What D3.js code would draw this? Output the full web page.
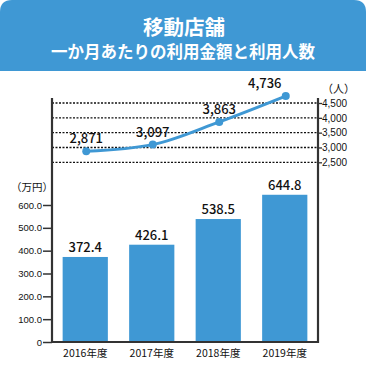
<!DOCTYPE html>
<html>
<head>
<meta charset="utf-8">
<script src="https://cdn.jsdelivr.net/npm/d3@7"></script>
<style>
  body { margin: 0; background: #fff; }
  svg { display: block; font-family: "Noto Sans CJK JP", "Noto Sans", sans-serif; }
</style>
</head>
<body>
<svg></svg>
<script>
let years = ["2016年度", "2017年度", "2018年度", "2019年度"];
let amounts = [372.4, 426.1, 538.5, 644.8];
let visitors = [2871, 3097, 3863, 4736];
let amountTicks = [0, 100, 200, 300, 400, 500, 600];
let visitorTicks = [2500, 3000, 3500, 4000, 4500];

let blue = "#3f98d4";
let axisColor = "#333";

let svg = d3.select("svg").attr("width", 366).attr("height", 375);

// header
svg.append("path")
    .attr("d", "M0,71 L0,12 Q0,0 12,0 L354,0 Q366,0 366,12 L366,71 Z")
    .style("fill", blue);
svg.append("text")
    .attr("x", 184).attr("y", 35)
    .attr("text-anchor", "middle")
    .style("fill", "#fff").style("font-size", "20.5px").style("font-weight", "bold")
    .text("移動店舗");
svg.append("text")
    .attr("x", 183).attr("y", 58)
    .attr("text-anchor", "middle")
    .style("fill", "#fff").style("font-size", "16.5px").style("font-weight", "bold")
    .text("一か月あたりの利用金額と利用人数");

let plotLeft = 52, plotRight = 318, plotBottom = 342, plotTop = 98;

let x = d3.scaleBand().domain(years).range([plotLeft, plotRight]).paddingInner(0.32).paddingOuter(0.16);
let y = d3.scaleLinear().domain([0, 600]).range([plotBottom, 205]);
let y2 = d3.scaleLinear().domain([2500, 4500]).range([162.3, 103]);

// dashed grid for visitors
svg.append("g")
    .selectAll("line")
    .data(visitorTicks)
    .join("line")
    .attr("x1", plotLeft).attr("x2", plotRight)
    .attr("y1", (d) => y2(d)).attr("y2", (d) => y2(d))
    .style("stroke", "#111").style("stroke-width", 1.3)
    .style("stroke-dasharray", "2,1.5");

// bars
svg.append("g")
    .selectAll("rect")
    .data(amounts)
    .join("rect")
    .attr("x", (d, i) => x(years[i]))
    .attr("y", (d) => y(d))
    .attr("width", x.bandwidth())
    .attr("height", (d) => plotBottom - y(d))
    .style("fill", blue);

svg.append("g")
    .selectAll("text")
    .data(amounts)
    .join("text")
    .attr("x", (d, i) => x(years[i]) + x.bandwidth() / 2)
    .attr("y", (d) => y(d) - 5)
    .attr("text-anchor", "middle")
    .style("font-size", "13px").style("font-weight", "500").style("fill", "#111")
    .text((d) => d.toFixed(1));

// left axis
let axL = svg.append("g")
    .attr("transform", `translate(${plotLeft},0)`)
    .call(d3.axisLeft(y).tickValues(amountTicks).tickSize(9)
        .tickFormat((d) => d === 0 ? "0" : d.toFixed(1)));
axL.select(".domain").remove();
axL.selectAll("line").style("stroke", axisColor).style("stroke-width", 1.5);
axL.selectAll("text").style("font-family", "inherit").style("font-size", "9.5px").style("fill", "#111").attr("x", -10);

// right axis
let axR = svg.append("g")
    .attr("transform", `translate(${plotRight},0)`)
    .call(d3.axisRight(y2).tickValues(visitorTicks).tickSize(4).tickFormat(d3.format(",")));
axR.select(".domain").remove();
axR.selectAll("line").style("stroke", axisColor).style("stroke-width", 1.3);
axR.selectAll("text").style("font-family", "inherit").style("font-size", "10px").style("fill", "#111").attr("x", 4);

// axis lines
svg.append("line").attr("x1", plotLeft).attr("x2", plotLeft).attr("y1", plotTop).attr("y2", plotBottom + 1)
    .style("stroke", axisColor).style("stroke-width", 2.2);
svg.append("line").attr("x1", plotRight).attr("x2", plotRight).attr("y1", plotTop).attr("y2", plotBottom + 1)
    .style("stroke", axisColor).style("stroke-width", 2.2);
svg.append("line").attr("x1", plotLeft - 1).attr("x2", plotRight + 1).attr("y1", plotBottom).attr("y2", plotBottom)
    .style("stroke", axisColor).style("stroke-width", 2.2);

// x labels
svg.append("g")
    .selectAll("text")
    .data(years)
    .join("text")
    .attr("x", (d) => x(d) + x.bandwidth() / 2)
    .attr("y", 357)
    .attr("text-anchor", "middle")
    .style("font-size", "10.5px").style("fill", "#111")
    .text((d) => d);

// unit labels
svg.append("text").attr("x", 11).attr("y", 191)
    .style("font-size", "10.5px").style("fill", "#111").text("（万円）");
svg.append("text").attr("x", 322).attr("y", 93)
    .style("font-size", "11px").style("fill", "#111").text("（人）");

// visitors line
let cx = (i) => x(years[i]) + x.bandwidth() / 2 + 1;
let line = d3.line()
    .x((d, i) => cx(i))
    .y((d) => y2(d))
    .curve(d3.curveMonotoneX);

svg.append("path")
    .attr("d", line(visitors))
    .style("fill", "none").style("stroke", blue).style("stroke-width", 3);

svg.append("g")
    .selectAll("circle")
    .data(visitors)
    .join("circle")
    .attr("cx", (d, i) => cx(i))
    .attr("cy", (d) => y2(d))
    .attr("r", 4)
    .style("fill", blue);

let labelShift = [0, 0, 0, -21];
svg.append("g")
    .selectAll("text")
    .data(visitors)
    .join("text")
    .attr("x", (d, i) => cx(i) + labelShift[i])
    .attr("y", (d) => y2(d) - 8)
    .attr("text-anchor", "middle")
    .style("font-size", "13px").style("font-weight", "500").style("fill", "#111")
    .text((d) => d3.format(",")(d));
</script>
</body>
</html>
